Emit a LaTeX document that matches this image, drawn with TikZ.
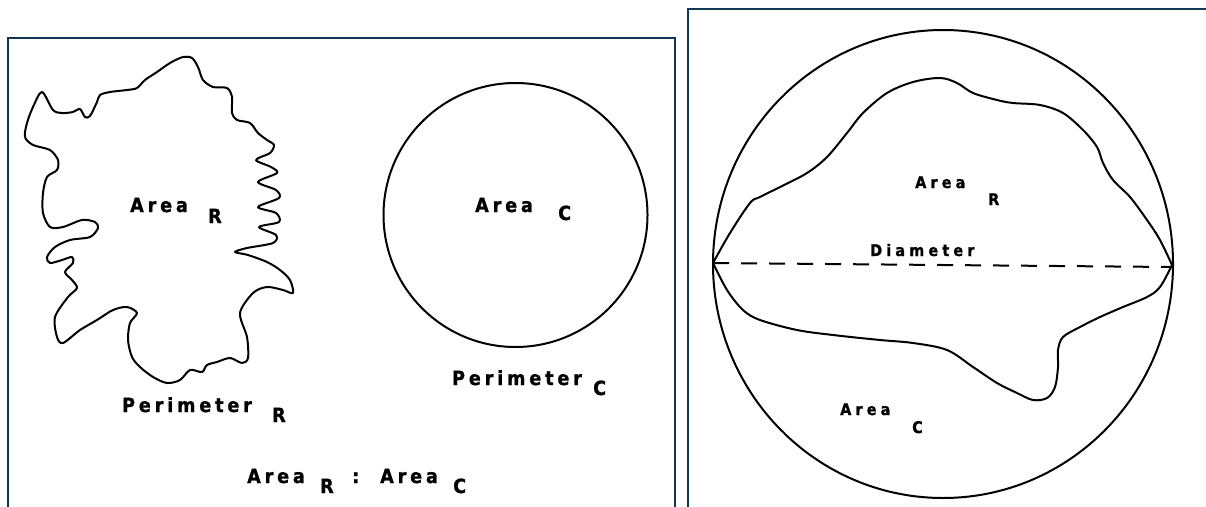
\documentclass[tikz,border=0pt]{standalone}
\usepackage{fontspec}
\newfontfamily\labfont[LetterSpace=20,FakeBold=1.2]{DejaVu Sans Condensed}
\newfontfamily\labsfont[LetterSpace=26,FakeBold=1.2]{DejaVu Sans Condensed}
\definecolor{framec}{RGB}{16,56,84}
\tikzset{
  lab/.style={inner sep=0pt, font=\labfont\bfseries\fontsize{19.5}{19.5}\selectfont},
  labs/.style={inner sep=0pt, font=\labsfont\bfseries\fontsize{16}{16}\selectfont},
  frm/.style={draw=framec, line width=2.6pt},
  shp/.style={draw=black, line width=2pt, line join=round},
}
\begin{document}
\begin{tikzpicture}[x=1pt,y=-1pt]
\clip (0,0) rectangle (1206,506);
\fill[white] (0,0) rectangle (1206,506);
% frames
\draw[frm] (8,38) rectangle (675,530);
\draw[frm] (688,9) rectangle (1230,530);
% irregular region (left)
\draw[shp] plot[smooth cycle, tension=0.5] coordinates {
 (42,92) (53,110) (62,113) (73,112) (80,109) (85,117) (90,116) (97,102) (100,95)
 (110,92) (127,90) (137,88) (145,80) (157,72) (170,63) (183,57) (192,58) (198,67)
 (203,80) (213,87) (227,88) (232,97) (232,113) (237,120) (250,123) (258,133)
 (267,140) (274,145) (270,153) (256,160) (271,167) (277,173) (258,182) (276,190)
 (279,198) (258,207) (276,213) (279,222) (259,227) (276,235) (273,243) (247,248)
 (235,252) (248,255) (267,262) (280,270) (290,280) (293,293) (283,290) (267,287)
 (253,293) (240,313) (247,337) (248,358) (242,363) (230,358) (217,362) (207,365)
 (202,372) (190,370) (180,380) (167,383) (153,377) (140,367) (132,357) (128,340)
 (130,323) (137,313) (127,307) (113,310) (97,320) (80,330) (63,343) (57,337)
 (55,317) (68,297) (77,288) (72,280) (65,272) (73,263) (72,257) (62,260) (50,263)
 (47,257) (55,247) (70,240) (90,237) (98,228) (95,222) (82,220) (63,227) (50,227)
 (43,213) (43,193) (47,177) (57,170) (58,160) (50,150) (33,145) (25,137) (27,123)
 (33,107)};
% circle (left)
\draw[shp] (515.5,215) circle[radius=132];
% labels left
\node[lab, anchor=base west] (aR) at (130,212) {Area};
\node[lab, anchor=base west] (aRs) at (208,223) {R};
\node[lab, anchor=base west] (aC) at (475,212) {Area};
\node[lab, anchor=base west] (aCs) at (558,220) {C};
\node[lab, anchor=base west] (pR) at (122,412) {Perimeter};
\node[lab, anchor=base west] (pRs) at (272,422) {R};
\node[lab, anchor=base west] (pC) at (452,385) {Perimeter};
\node[lab, anchor=base west] (pCs) at (593,395) {C};
\node[lab, anchor=base west] (eqa) at (247,483) {Area};
\node[lab, anchor=base west] (eqas) at (320,493) {R};
\node[lab, anchor=base west] (eqc) at (352,483) {:};
\node[lab, anchor=base west] (eqb) at (380,483) {Area};
\node[lab, anchor=base west] (eqbs) at (453,493) {C};
% right panel
\draw[shp] (943,264) ellipse[x radius=230, y radius=234];
\coordinate (dL) at (713,263);
\coordinate (dR) at (1172,267);
\draw[black, line width=2pt, dash pattern=on 16pt off 12pt] (dL) -- (dR);
\draw[shp] plot[smooth, tension=0.55] coordinates {
 (713,263) (730,233) (750,203) (760,197) (780,187) (807,173) (827,157) (847,133)
 (863,113) (887,93) (913,82) (940,78) (957,83) (973,93) (997,100) (1013,103)
 (1040,105) (1063,113) (1083,130) (1097,147) (1103,163) (1113,180) (1130,197)
 (1147,220) (1160,240) (1172,265)};
\draw[shp] plot[smooth, tension=0.55] coordinates {
 (1172,265) (1160,287) (1147,297) (1123,307) (1100,317) (1080,327) (1063,337)
 (1058,350) (1058,367) (1055,387) (1047,398) (1033,400) (1017,393) (997,383)
 (973,367) (947,350) (913,343) (880,340) (833,335) (797,330) (760,320) (743,310)
 (727,290) (713,263)};
\node[labs, anchor=base west] (rR) at (915,188) {Area};
\node[labs, anchor=base west] (rRs) at (988,205) {R};
\node[labs, anchor=base west] (dia) at (870,256) {Diameter};
\node[labs, anchor=base west] (rC) at (840,415) {Area};
\node[labs, anchor=base west] (rCs) at (912,433) {C};
\end{tikzpicture}
\end{document}
